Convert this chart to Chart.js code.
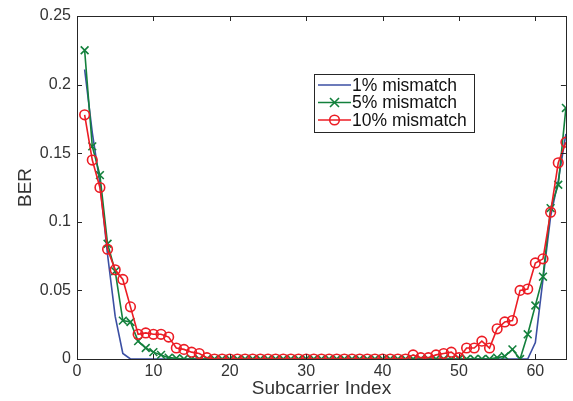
<!DOCTYPE html>
<html>
<head>
<meta charset="utf-8">
<script src="https://cdn.jsdelivr.net/npm/chart.js@4.4.1/dist/chart.umd.min.js"></script>
<style>
  html, body { margin: 0; padding: 0; background: #fff; }
  #wrap { width: 573px; height: 401px; }
</style>
</head>
<body>
<div id="wrap"><canvas id="ber-chart" width="573" height="401"></canvas></div>
<script>
// subcarrier index (x axis)
const subcarriers = [
  1, 2, 3, 4, 5, 6, 7, 8, 9, 10, 11, 12, 13, 14, 15, 16,
  17, 18, 19, 20, 21, 22, 23, 24, 25, 26, 27, 28, 29, 30, 31, 32,
  33, 34, 35, 36, 37, 38, 39, 40, 41, 42, 43, 44, 45, 46, 47, 48,
  49, 50, 51, 52, 53, 54, 55, 56, 57, 58, 59, 60, 61, 62, 63, 64
];

// BER
const ber1 = [
  0.211, 0.165, 0.128, 0.076, 0.031, 0.004, 0, 0, 0, 0, 0, 0, 0, 0, 0, 0,
  0, 0, 0, 0, 0, 0, 0, 0, 0, 0, 0, 0, 0, 0, 0, 0,
  0, 0, 0, 0, 0, 0, 0, 0, 0, 0, 0, 0, 0, 0, 0, 0,
  0, 0, 0, 0, 0, 0, 0, 0, 0, 0, 0, 0.012, 0.058, 0.104, 0.130, 0.164
];
const ber5 = [
  0.225, 0.155, 0.134, 0.084, 0.064, 0.028, 0.027, 0.013, 0.008, 0.005, 0.003, 0.001, 0.0005, 0, 0, 0,
  0, 0, 0, 0, 0, 0, 0, 0, 0, 0, 0, 0, 0, 0, 0, 0,
  0, 0, 0, 0, 0, 0, 0, 0, 0, 0, 0, 0, 0, 0, 0, 0,
  0, 0, 0, 0, 0, 0, 0.001, 0.002, 0.007, 0, 0.018, 0.039, 0.060, 0.110, 0.127, 0.183
];
const ber10 = [
  0.178, 0.145, 0.125, 0.080, 0.065, 0.058, 0.038, 0.018, 0.019, 0.018, 0.018, 0.016, 0.008, 0.007, 0.005, 0.004,
  0.001, 0, 0, 0, 0, 0, 0, 0, 0, 0, 0, 0, 0, 0, 0, 0,
  0, 0, 0, 0, 0, 0, 0, 0, 0, 0, 0, 0.003, 0.001, 0.001, 0.003, 0.004,
  0.005, 0.001, 0.008, 0.008, 0.013, 0.008, 0.022, 0.027, 0.028, 0.050, 0.051, 0.070, 0.073, 0.107, 0.143, 0.158
];

const seriesLabels = ['1% mismatch', '5% mismatch', '10% mismatch'];
const xTicks = [0, 10, 20, 30, 40, 50, 60];
const yTicks = [0, 0.05, 0.1, 0.15, 0.2, 0.25];

const FONT = "'Liberation Sans', Arial, Helvetica, sans-serif";
const AXIS_COLOR = '#262626';
const TEXT_COLOR = '#333333';
const BLUE = '#3b4fa3';
const GREEN = '#13803c';
const RED = '#ec1c24';

function toPoints(values) {
  return subcarriers.map((x, i) => ({ x: x, y: values[i] }));
}

// box + inward ticks, matlab style
const frameTicks = {
  id: 'frameTicks',
  afterDatasetsDraw(chart) {
    const { ctx, chartArea: a, scales } = chart;
    const len = 5;
    ctx.save();
    ctx.strokeStyle = AXIS_COLOR;
    ctx.lineWidth = 1;
    ctx.beginPath();
    xTicks.forEach(v => {
      const px = Math.round(scales.x.getPixelForValue(v)) + 0.5;
      ctx.moveTo(px, a.bottom); ctx.lineTo(px, a.bottom - len);
      ctx.moveTo(px, a.top); ctx.lineTo(px, a.top + len);
    });
    yTicks.forEach(v => {
      const py = Math.round(scales.y.getPixelForValue(v)) + 0.5;
      ctx.moveTo(a.left, py); ctx.lineTo(a.left + len, py);
      ctx.moveTo(a.right, py); ctx.lineTo(a.right - len, py);
    });
    ctx.stroke();
    ctx.strokeRect(Math.round(a.left) + 0.5, Math.round(a.top) + 0.5,
      Math.round(a.right - a.left), Math.round(a.bottom - a.top));
    ctx.restore();
  }
};

// legend box inside the plot
const innerLegend = {
  id: 'innerLegend',
  afterDraw(chart) {
    const ctx = chart.ctx;
    const box = { left: 314, top: 74, width: 160, height: 58 };
    const rowH = 17.5;
    ctx.save();
    ctx.fillStyle = '#fff';
    ctx.fillRect(box.left, box.top, box.width, box.height);
    ctx.strokeStyle = AXIS_COLOR;
    ctx.lineWidth = 1;
    ctx.strokeRect(box.left + 0.5, box.top + 0.5, box.width, box.height);
    ctx.font = '17.5px ' + FONT;
    ctx.textBaseline = 'middle';
    chart.data.datasets.forEach((ds, i) => {
      const y = box.top + 11 + i * rowH;
      const x0 = box.left + 4, x1 = box.left + 37;
      ctx.strokeStyle = ds.borderColor;
      ctx.lineWidth = ds.borderWidth;
      ctx.beginPath();
      ctx.moveTo(x0, y); ctx.lineTo(x1, y);
      ctx.stroke();
      const cx = (x0 + x1) / 2;
      if (ds.pointStyle === 'crossRot') {
        const r = 4.5;
        ctx.beginPath();
        ctx.moveTo(cx - r, y - r); ctx.lineTo(cx + r, y + r);
        ctx.moveTo(cx - r, y + r); ctx.lineTo(cx + r, y - r);
        ctx.stroke();
      } else if (ds.pointStyle === 'circle' && ds.pointRadius > 0) {
        ctx.beginPath();
        ctx.arc(cx, y, ds.pointRadius, 0, Math.PI * 2);
        ctx.stroke();
      }
      ctx.fillStyle = '#111';
      ctx.fillText(ds.label, x1 + 1, y + 1);
    });
    ctx.restore();
  }
};

const ctx = document.getElementById('ber-chart').getContext('2d');
new Chart(ctx, {
  type: 'line',
  data: {
    datasets: [
      {
        label: seriesLabels[0],
        data: toPoints(ber1),
        borderColor: BLUE,
        backgroundColor: BLUE,
        borderWidth: 1.6,
        pointRadius: 0,
        pointStyle: 'line',
        order: 2
      },
      {
        label: seriesLabels[1],
        data: toPoints(ber5),
        borderColor: GREEN,
        backgroundColor: GREEN,
        borderWidth: 1.6,
        pointStyle: 'crossRot',
        pointRadius: 5.5,
        pointBorderWidth: 1.6,
        order: 1
      },
      {
        label: seriesLabels[2],
        data: toPoints(ber10),
        borderColor: RED,
        backgroundColor: 'rgba(0,0,0,0)',
        borderWidth: 1.6,
        pointStyle: 'circle',
        pointRadius: 4.8,
        pointBorderWidth: 1.6,
        order: 0
      }
    ]
  },
  options: {
    responsive: false,
    animation: false,
    devicePixelRatio: 1,
    layout: { padding: { left: 0, right: 3, top: 16, bottom: 0 } },
    plugins: {
      legend: { display: false },
      tooltip: { enabled: false }
    },
    elements: { line: { tension: 0 } },
    scales: {
      x: {
        type: 'linear',
        min: 0,
        max: 64,
        afterBuildTicks: axis => { axis.ticks = xTicks.map(v => ({ value: v })); },
        afterFit: axis => { axis.height = 42; },
        grid: { display: false, drawTicks: false },
        border: { display: false },
        ticks: {
          color: TEXT_COLOR,
          font: { family: FONT, size: 16 },
          padding: 3,
          maxRotation: 0
        },
        title: {
          display: true,
          text: 'Subcarrier Index',
          color: TEXT_COLOR,
          font: { family: FONT, size: 19 },
          padding: { top: 0, bottom: 1 }
        }
      },
      y: {
        type: 'linear',
        min: 0,
        max: 0.25,
        afterBuildTicks: axis => { axis.ticks = yTicks.map(v => ({ value: v })); },
        afterFit: axis => { axis.width = 77; },
        grid: { display: false, drawTicks: false },
        border: { display: false },
        ticks: {
          color: TEXT_COLOR,
          font: { family: FONT, size: 16 },
          padding: 6,
          callback: v => String(Number(v.toFixed(2)))
        },
        title: {
          display: true,
          text: 'BER',
          color: TEXT_COLOR,
          font: { family: FONT, size: 19 },
          padding: { top: 14, bottom: 0 }
        }
      }
    }
  },
  plugins: [frameTicks, innerLegend]
});
</script>
</body>
</html>
